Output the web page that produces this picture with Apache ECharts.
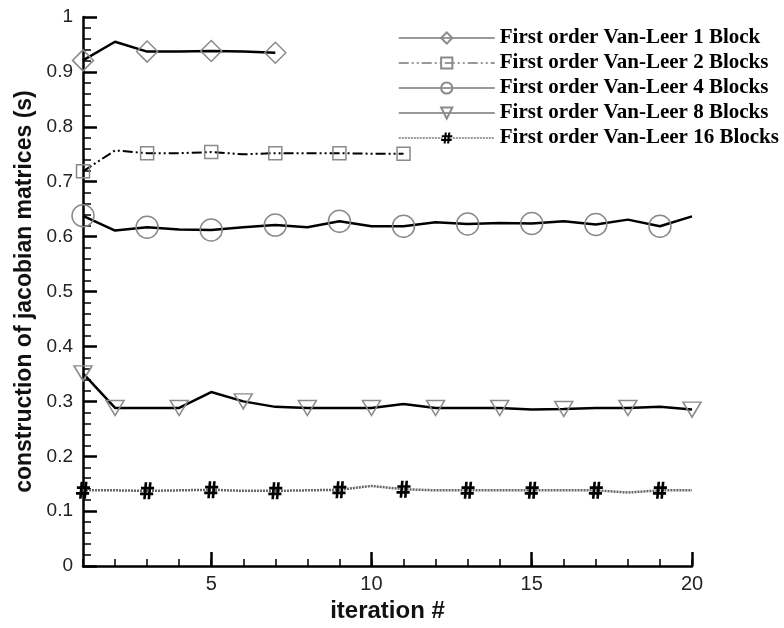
<!DOCTYPE html>
<html>
<head>
<meta charset="utf-8">
<script src="https://cdn.jsdelivr.net/npm/echarts@6/dist/echarts.min.js"></script>
<style>
  html, body { margin: 0; padding: 0; background: #fff; }
  #chart { width: 784px; height: 628px; }
</style>
</head>
<body>
<div id="chart"></div>
<script>
// Iteration numbers
const iterations = [1, 2, 3, 4, 5, 6, 7, 8, 9, 10, 11, 12, 13, 14, 15, 16, 17, 18, 19, 20];

// Time spent building the jacobian matrices (s), per iteration
const block1 = [0.921, 0.955, 0.937, 0.937, 0.938, 0.937, 0.935];
const block2 = [0.719, 0.757, 0.752, 0.752, 0.754, 0.750, 0.752, 0.752, 0.752, 0.751, 0.751];
const block4 = [0.638, 0.611, 0.617, 0.613, 0.612, 0.617, 0.621, 0.617, 0.628, 0.619,
                0.619, 0.626, 0.623, 0.625, 0.624, 0.628, 0.622, 0.631, 0.619, 0.637];
const block8 = [0.351, 0.288, 0.288, 0.288, 0.317, 0.300, 0.290, 0.288, 0.288, 0.288,
                0.295, 0.288, 0.288, 0.288, 0.285, 0.286, 0.288, 0.288, 0.290, 0.285];
const block16 = [0.138, 0.138, 0.137, 0.138, 0.139, 0.137, 0.137, 0.138, 0.139, 0.146,
                 0.140, 0.138, 0.138, 0.138, 0.138, 0.138, 0.138, 0.134, 0.138, 0.138];

// Iterations that carry a symbol on each curve
const marks1 = [1, 3, 5, 7];
const marks2 = [1, 3, 5, 7, 9, 11];
const marks4 = [1, 3, 5, 7, 9, 11, 13, 15, 17, 19];
const marks8 = [1, 2, 4, 6, 8, 10, 12, 14, 16, 18, 20];
const marks16 = [1, 3, 5, 7, 9, 11, 13, 15, 17, 19];

const seriesNames = [
  'First order Van-Leer 1 Block',
  'First order Van-Leer 2 Blocks',
  'First order Van-Leer 4 Blocks',
  'First order Van-Leer 8 Blocks',
  'First order Van-Leer 16 Blocks'
];

const yTicks = [0, 0.1, 0.2, 0.3, 0.4, 0.5, 0.6, 0.7, 0.8, 0.9, 1];
const xTickLabels = [5, 10, 15, 20];

// '#' glyph used as a plot symbol
const hashSymbol = 'path://M33 0 L51 0 L41 100 L23 100 Z M63 0 L81 0 L71 100 L53 100 Z ' +
                   'M8 26 L98 26 L98 42 L8 42 Z M2 60 L92 60 L92 76 L2 76 Z';

function points(values, marks) {
  return values.map((v, i) => {
    const it = iterations[i];
    const item = { value: [it, v] };
    if (marks.indexOf(it) < 0) item.symbol = 'none';
    return item;
  });
}

const hollow = { color: 'rgba(0,0,0,0)', borderColor: '#8a8a8a', borderWidth: 1.5 };

const chart = echarts.init(document.getElementById('chart'));
chart.setOption({
  animation: false,
  backgroundColor: '#fff',
  grid: { left: 83, right: 92, top: 17, bottom: 55, containLabel: false },
  legend: {
    orient: 'vertical',
    left: 398,
    top: 27,
    padding: 0,
    itemWidth: 96,
    itemHeight: 14,
    itemGap: 3,
    data: seriesNames,
    selectedMode: false,
    lineStyle: { color: '#777', width: 1.5 },
    textStyle: {
      fontFamily: '"Liberation Serif", "Times New Roman", serif',
      fontWeight: 'bold',
      fontSize: 21,
      lineHeight: 22,
      color: '#000'
    }
  },
  xAxis: [{
    type: 'value',
    min: 1,
    max: 20,
    interval: 1,
    name: 'iteration #',
    nameLocation: 'middle',
    nameGap: 27,
    nameTextStyle: { fontFamily: '"Liberation Sans", Arial, sans-serif', fontWeight: 'bold', fontSize: 24, color: '#111' },
    axisLine: { show: true, lineStyle: { color: '#000', width: 2.5 } },
    axisTick: { show: true, inside: true, length: 7, lineStyle: { color: '#000', width: 1.5 } },
    axisLabel: {
      margin: 8,
      fontFamily: '"Liberation Sans", Arial, sans-serif',
      fontSize: 20,
      color: '#222',
      formatter: v => (xTickLabels.indexOf(v) >= 0 ? String(v) : '')
    },
    splitLine: { show: false }
  }, {
    // longer ticks at the labelled iterations
    type: 'value',
    min: 1,
    max: 20,
    position: 'bottom',
    axisLine: { show: false },
    axisTick: { show: true, inside: true, length: 14, customValues: xTickLabels, lineStyle: { color: '#000', width: 2.5 } },
    axisLabel: { show: false },
    splitLine: { show: false }
  }],
  yAxis: {
    type: 'value',
    min: 0,
    max: 1,
    interval: 0.1,
    name: 'construction of jacobian matrices (s)',
    nameLocation: 'middle',
    nameGap: 46,
    nameTextStyle: { fontFamily: '"Liberation Sans", Arial, sans-serif', fontWeight: 'bold', fontSize: 23, color: '#111' },
    axisLine: { show: true, lineStyle: { color: '#000', width: 2.5 } },
    axisTick: { show: true, inside: true, length: 14, lineStyle: { color: '#000', width: 2.5 } },
    minorTick: { show: true, splitNumber: 5, length: 8, lineStyle: { color: '#000', width: 1.5 } },
    axisLabel: {
      margin: 10,
      fontFamily: '"Liberation Sans", Arial, sans-serif',
      fontSize: 19,
      color: '#222',
      formatter: v => {
        const t = yTicks.find(y => Math.abs(y - v) < 1e-9);
        return t === undefined ? '' : String(t);
      }
    },
    splitLine: { show: false },
    minorSplitLine: { show: false }
  },
  series: [{
    name: seriesNames[0],
    type: 'line',
    data: points(block1, marks1),
    symbol: 'diamond',
    symbolSize: 21,
    itemStyle: hollow,
    lineStyle: { color: '#000', width: 2.5 },
    emphasis: { disabled: true }
  }, {
    name: seriesNames[1],
    type: 'line',
    data: points(block2, marks2),
    symbol: 'rect',
    symbolSize: 13,
    itemStyle: hollow,
    lineStyle: { color: '#000', width: 2, type: [10, 3, 2, 3, 2, 3] },
    emphasis: { disabled: true }
  }, {
    name: seriesNames[2],
    type: 'line',
    data: points(block4, marks4),
    symbol: 'circle',
    symbolSize: 22,
    itemStyle: hollow,
    lineStyle: { color: '#000', width: 2.5 },
    emphasis: { disabled: true }
  }, {
    name: seriesNames[3],
    type: 'line',
    data: points(block8, marks8),
    symbol: 'triangle',
    symbolRotate: 180,
    symbolSize: [18, 15],
    itemStyle: hollow,
    lineStyle: { color: '#000', width: 2.5 },
    emphasis: { disabled: true }
  }, {
    name: seriesNames[4],
    type: 'line',
    data: points(block16, marks16),
    symbol: hashSymbol,
    symbolSize: [14, 17],
    itemStyle: { color: '#000' },
    lineStyle: { color: '#666', width: 2.5, type: [2, 1] },
    emphasis: { disabled: true }
  }]
});
</script>
</body>
</html>
